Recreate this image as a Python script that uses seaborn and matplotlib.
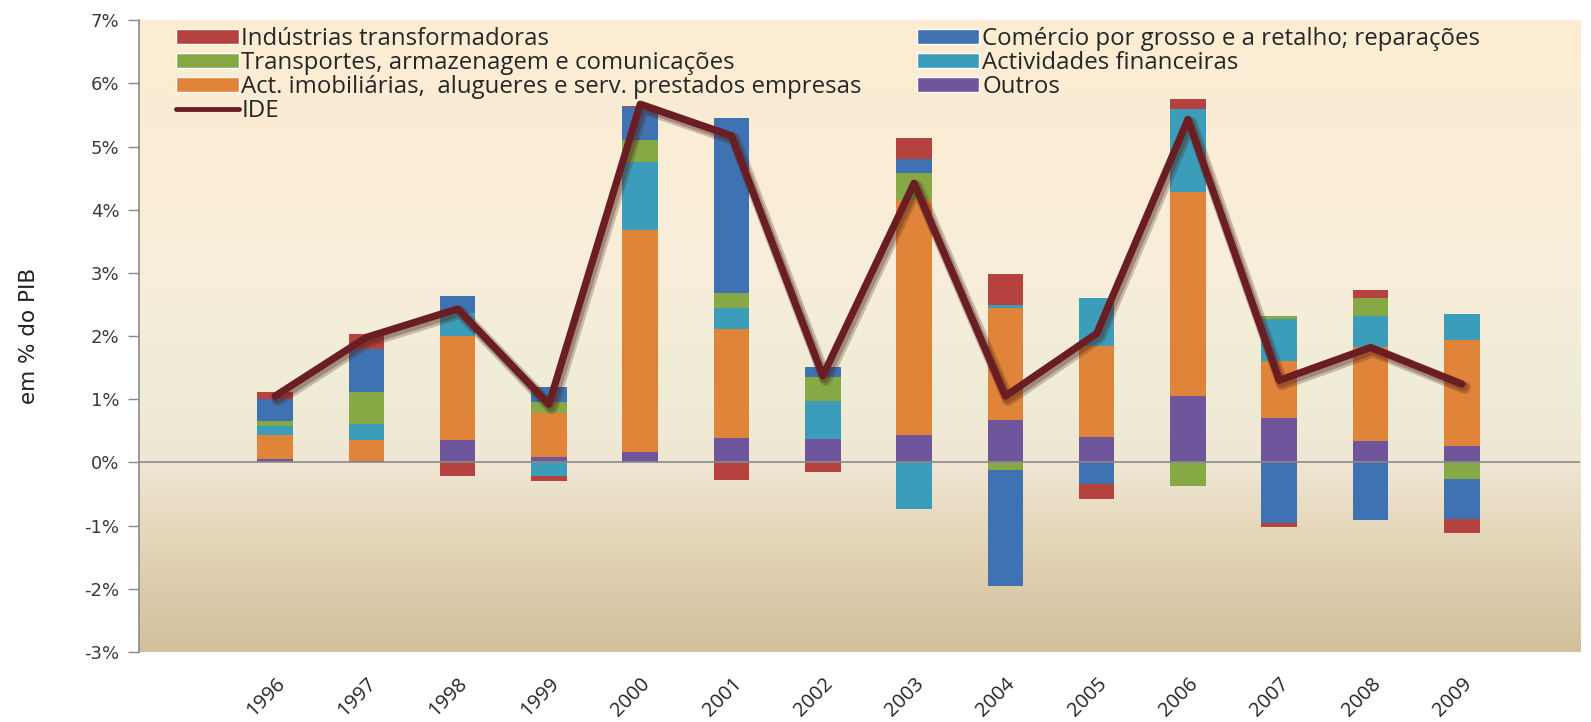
import numpy as np
import pandas as pd
import matplotlib
matplotlib.use("Agg")
import matplotlib.pyplot as plt
import matplotlib.transforms as mtransforms
import seaborn as sns
from matplotlib import patheffects as pe
from matplotlib.colors import LinearSegmentedColormap
from matplotlib.patches import Patch
from matplotlib.lines import Line2D

years = ["1996", "1997", "1998", "1999", "2000", "2001", "2002",
         "2003", "2004", "2005", "2006", "2007", "2008", "2009"]

# series values (% of GDP)
industrias = [0.10, 0.23, -0.21, -0.09, 0.03, -0.28, -0.15, 0.33, 0.48, -0.24, 0.16, -0.06, 0.12, -0.22]
comercio = [0.36, 0.68, 0.26, 0.25, 0.52, 2.78, 0.15, 0.23, -1.84, -0.34, 0.00, -0.96, -0.91, -0.64]
transportes = [0.07, 0.51, 0.00, 0.16, 0.34, 0.24, 0.39, 0.43, -0.12, 0.00, -0.37, 0.05, 0.29, -0.26]
financeiras = [0.15, 0.25, 0.37, -0.21, 1.08, 0.33, 0.60, -0.73, 0.05, 0.75, 1.32, 0.66, 0.50, 0.41]
imobiliarias = [0.38, 0.34, 1.64, 0.71, 3.51, 1.72, 0.00, 3.72, 1.78, 1.45, 3.23, 0.91, 1.48, 1.68]
outros = [0.05, 0.02, 0.36, 0.08, 0.17, 0.39, 0.37, 0.43, 0.67, 0.40, 1.05, 0.70, 0.34, 0.26]
ide = [1.05, 1.98, 2.43, 0.92, 5.67, 5.17, 1.37, 4.42, 1.05, 2.04, 5.43, 1.30, 1.82, 1.24]

labels = {
    "ind": "Indústrias transformadoras",
    "com": "Comércio por grosso e a retalho; reparações",
    "tra": "Transportes, armazenagem e comunicações",
    "fin": "Actividades financeiras",
    "imo": "Act. imobiliárias,  alugueres e serv. prestados empresas",
    "out": "Outros",
    "ide": "IDE",
}
colors = {
    "ind": "#B6423F",
    "com": "#3E72B2",
    "tra": "#86A845",
    "fin": "#3B9DB9",
    "imo": "#E0843A",
    "out": "#6F559B",
}
ide_color = "#6A1E23"

# stacking order (bottom -> top)
stack = [("out", outros), ("imo", imobiliarias), ("fin", financeiras),
         ("tra", transportes), ("com", comercio), ("ind", industrias)]

sns.set_theme(style="white")
plt.rcParams["font.family"] = ["DejaVu Sans"]

fig = plt.figure(figsize=(15.91, 7.22), dpi=100)
ax = fig.add_axes([0.0874, 0.097, 0.906, 0.875])

# background gradient
grad_cmap = LinearSegmentedColormap.from_list(
    "bg",
    [(0.0, "#D3BF9B"), (0.2, "#E6D9BD"), (0.30, "#F0E6D4"), (0.40, "#EFECD6"),
     (0.6, "#F8EED9"), (1.0, "#FCECD2")])
gy = np.linspace(0, 1, 256).reshape(-1, 1)
ax.imshow(gy, aspect="auto", cmap=grad_cmap, origin="lower",
          extent=(0, 1, 0, 1), transform=ax.transAxes, zorder=0)

x = np.arange(len(years))
width = 0.39
pos_base = np.zeros(len(years))
neg_base = np.zeros(len(years))
for key, vals in stack:
    v = np.array(vals, dtype=float)
    bottoms = np.where(v >= 0, pos_base, neg_base)
    ax.bar(x, v, width=width, bottom=bottoms, color=colors[key],
           edgecolor="none", zorder=2)
    pos_base = pos_base + np.where(v >= 0, v, 0)
    neg_base = neg_base + np.where(v < 0, v, 0)

df_ide = pd.DataFrame({"x": x, "IDE": ide})
sns.lineplot(data=df_ide, x="x", y="IDE", ax=ax, color=ide_color, linewidth=5.2,
             zorder=4, legend=False,
             path_effects=[pe.SimpleLineShadow(offset=(2, -2.5), shadow_color="#4a2015", alpha=0.25, linewidth=9),
                           pe.SimpleLineShadow(offset=(1.5, -2), shadow_color="#4a2015", alpha=0.3, linewidth=6.5),
                           pe.Normal()])

ax.axhline(0, color="#8a8a8a", linewidth=1.2, zorder=3)

ax.set_xlim(-1.49, 14.3)
ax.set_ylim(-3, 7)
ax.set_yticks(np.arange(-3, 8, 1))
ax.set_yticklabels([f"{v}%" for v in range(-3, 8)], fontsize=13, color="#3a3a3a")
ax.set_xticks(x)
ax.set_xticklabels(years, rotation=45, ha="right", rotation_mode="anchor",
                   fontsize=14.5, color="#252525", family=["Open Sans", "DejaVu Sans"])
shift = mtransforms.ScaledTranslation(0.12, 0, fig.dpi_scale_trans)
for lbl in ax.get_xticklabels():
    lbl.set_transform(lbl.get_transform() + shift)
ax.tick_params(axis="y", which="both", left=True, length=8, width=1, color="#8a8a8a", pad=6)
ax.tick_params(axis="x", which="both", bottom=False, length=0, pad=16)
ax.set_xlabel("")
ax.set_ylabel("em % do PIB", fontsize=15.5, color="#202020",
              family=["Liberation Sans Narrow", "DejaVu Sans"], labelpad=33)
for s in ["top", "right", "bottom"]:
    ax.spines[s].set_visible(False)
ax.spines["left"].set_color("#8a8a8a")
ax.spines["left"].set_linewidth(1.2)

leg_font = {"family": ["Open Sans", "DejaVu Sans"], "size": 17.3}
h1 = [Patch(facecolor=colors["ind"], label=labels["ind"]),
      Patch(facecolor=colors["tra"], label=labels["tra"]),
      Patch(facecolor=colors["imo"], label=labels["imo"]),
      Line2D([0], [0], color=ide_color, linewidth=3.5, label=labels["ide"])]
h2 = [Patch(facecolor=colors["com"], label=labels["com"]),
      Patch(facecolor=colors["fin"], label=labels["fin"]),
      Patch(facecolor=colors["out"], label=labels["out"])]
common = dict(loc="upper left", frameon=False, prop=leg_font, handlelength=2.6,
              handleheight=0.6, handletextpad=0.12, labelspacing=0.0, borderaxespad=0)
leg1 = ax.legend(handles=h1, bbox_to_anchor=(0.019, 1.004), **common)
ax.add_artist(leg1)
ax.legend(handles=h2, bbox_to_anchor=(0.533, 1.004), **common)

fig.savefig("out.png", dpi=100, facecolor="white")
